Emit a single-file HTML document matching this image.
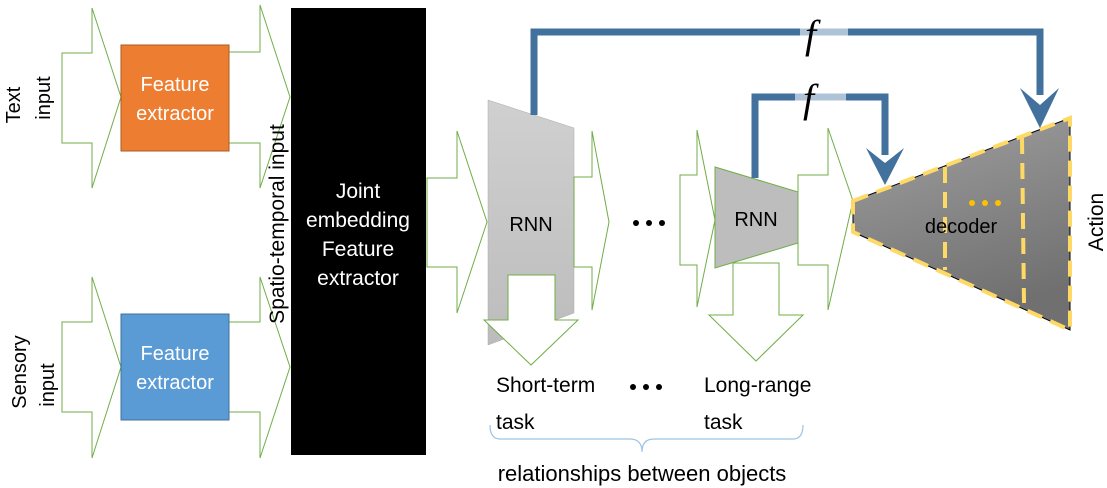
<!DOCTYPE html>
<html><head><meta charset="utf-8"><style>
html,body{margin:0;padding:0;background:#fff;}
svg{display:block;font-family:"Liberation Sans",sans-serif;}
</style></head><body>
<svg width="1107" height="488" viewBox="0 0 1107 488" xmlns="http://www.w3.org/2000/svg">
<defs>
<linearGradient id="g1" x1="0" y1="0" x2="0" y2="1"><stop offset="0" stop-color="#d0d0d0"/><stop offset="1" stop-color="#bcbcbc"/></linearGradient>
<linearGradient id="g2" x1="0" y1="0" x2="0.3" y2="1"><stop offset="0" stop-color="#a0a0a0"/><stop offset="1" stop-color="#707070"/></linearGradient>
</defs>
<g fill="#fff" stroke="#70AD47" stroke-width="1">
<polygon points="62,53 92,53 92,8 121,97 92,188 92,143 62,143"/>
<polygon points="62,322 92,322 92,277 121,367 92,458 92,412 62,412"/>
<polygon points="229,52 260,52 260,5 290,97 260,188 260,143 229,143"/>
<polygon points="229,322 260,322 260,277 290,367 260,458 260,412 229,412"/>
</g>
<rect x="121" y="45" width="108" height="106" fill="#ED7D31" stroke="#AE5A21"/>
<rect x="121" y="314" width="108" height="106" fill="#5B9BD5" stroke="#41719C"/>
<g fill="#fff" font-size="20" text-anchor="middle">
<text x="175" y="91">Feature</text><text x="175" y="120">extractor</text>
<text x="175" y="360">Feature</text><text x="175" y="389">extractor</text>
</g>
<g font-size="20" fill="#000" text-anchor="middle">
<text transform="translate(20,105) rotate(-90)">Text</text>
<text transform="translate(50,98) rotate(-90)">input</text>
<text transform="translate(26,372) rotate(-90)">Sensory</text>
<text transform="translate(54,385) rotate(-90)">input</text>
<text transform="translate(284,224) rotate(-90)" font-size="21">Spatio-temporal input</text>
<text transform="translate(1103,222) rotate(-90)" font-size="21">Action</text>
</g>
<rect x="291" y="8" width="135" height="447" fill="#000"/>
<g fill="#fff" font-size="21" text-anchor="middle">
<text x="358" y="198">Joint</text><text x="358" y="227">embedding</text>
<text x="358" y="256">Feature</text><text x="358" y="285">extractor</text>
</g>
<g fill="#fff" stroke="#70AD47" stroke-width="1">
<polygon points="427,178 457,178 457,131 487,222 457,313 457,267 427,267"/>
</g>
<polygon points="488,100 574,128 574,313 488,345" fill="url(#g1)" stroke="#aaa" stroke-width="0.5"/>
<g fill="#fff" stroke="#70AD47" stroke-width="1">
<polygon points="508,275 555,275 555,320 578,320 531,365 484,320 508,320"/>
<polygon points="574,177 592,177 592,131 609,222 592,310 592,267 574,267"/>
<polygon points="680,175 697,175 697,130 715,220 697,307 697,265 680,265"/>
<polygon points="798,175 828,175 828,128 853,201 828,310 828,265 798,265"/>
</g>
<polygon points="715,167 798,192 798,243 715,268" fill="#bdbdbd" stroke="#70AD47" stroke-width="1"/>
<polygon points="733,263 779,263 779,315 803,315 756,361 709,315 733,315" fill="#fff" stroke="#70AD47" stroke-width="1"/>
<g font-size="20" fill="#000" text-anchor="middle">
<text x="531" y="231">RNN</text><text x="756" y="226">RNN</text>
</g>
<g fill="#000"><circle cx="636" cy="223" r="3"/><circle cx="649" cy="223" r="3"/><circle cx="662" cy="223" r="3"/>
<circle cx="633" cy="387" r="3"/><circle cx="646" cy="387" r="3"/><circle cx="659" cy="387" r="3"/></g>
<polygon points="853,201 1070,118 1070,330 853,232" fill="url(#g2)" stroke="#000" stroke-width="1"/>
<g stroke="#FFD966" stroke-width="4" stroke-dasharray="16,9" fill="none">
<polygon points="853,201 1070,118 1070,330 853,232"/>
<line x1="945" y1="167" x2="945" y2="270"/>
<line x1="1022" y1="138" x2="1024" y2="303"/>
</g>
<g fill="#FFC000"><circle cx="972" cy="203" r="3"/><circle cx="985" cy="203" r="3"/><circle cx="998" cy="203" r="3"/></g>
<text x="961" y="233" font-size="20" fill="#000" text-anchor="middle">decoder</text>
<g stroke="#41719C" stroke-width="7" fill="none">
<polyline points="534,115 534,32 1040,32 1040,95"/>
<polyline points="755,178 755,97 885,97 885,155"/>
</g>
<line x1="800" y1="32" x2="848" y2="32" stroke="#AFC3D8" stroke-width="7"/>
<line x1="795" y1="97" x2="846" y2="97" stroke="#AFC3D8" stroke-width="7"/>
<polygon points="1020,88 1040,105 1059,88 1040,128" fill="#41719C"/>
<polygon points="866,148 885,163 904,148 885,185" fill="#41719C"/>
<g font-family="Liberation Serif,serif" font-style="italic" font-size="40" fill="#000">
<text x="805" y="48">f</text><text x="803" y="112">f</text>
</g>
<g font-size="21" fill="#000">
<text x="496" y="392">Short-term</text><text x="496" y="429">task</text>
<text x="704" y="392">Long-range</text><text x="704" y="429">task</text>
<text x="642" y="481" text-anchor="middle" font-size="22">relationships between objects</text>
</g>
<path d="M490,425 Q490,439 500,439 L630,439 Q642,439 642,452 Q642,439 654,439 L793,439 Q803,439 803,425" fill="none" stroke="#9DC3E6" stroke-width="1.2"/>
</svg>
</body></html>
